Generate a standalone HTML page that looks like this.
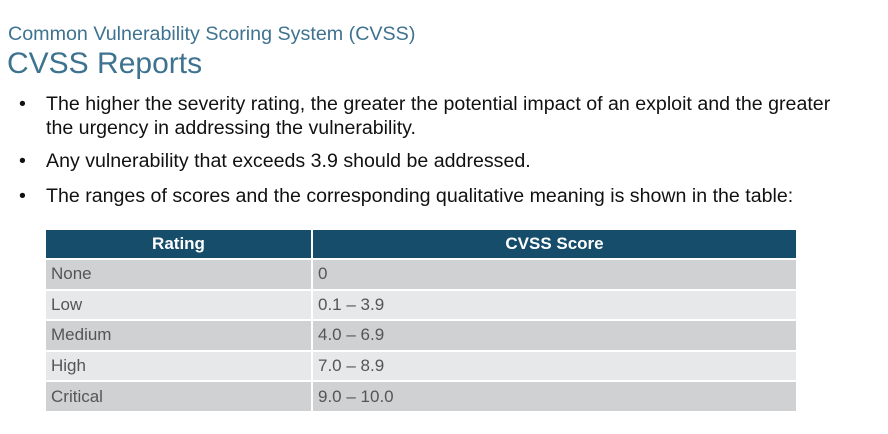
<!DOCTYPE html>
<html><head><meta charset="utf-8"><style>
body{margin:0;width:888px;height:434px;background:#fff;font-family:"Liberation Sans",Arial,sans-serif;position:relative;overflow:hidden}
.a{position:absolute;white-space:nowrap}
.sub{left:8px;top:23px;font-size:19.7px;color:#3e7390}
.ttl{left:7px;top:47px;font-size:30px;color:#3e7390}
.b{font-size:19.6px;color:#111;left:46px;line-height:24px}
.dot{position:absolute;left:-27px}
table{position:absolute;left:46px;top:230px;width:752px;border-collapse:collapse;font-size:17px}
th{background:#154d6b;color:#fff;font-weight:bold;height:28px;border-right:2px solid #fff;padding:0}
td{height:28.6px;padding:0 0 0 5px;color:#555;border-top:2px solid #fff;border-right:2px solid #fff}
tr.o td{background:#cfd1d3}tr.e td{background:#e7e8e9}
</style></head><body>
<div class="a sub">Common Vulnerability Scoring System (CVSS)</div>
<div class="a ttl">CVSS Reports</div>
<div class="a b" style="top:92px"><span class="dot">•</span>The higher the severity rating, the greater the potential impact of an exploit and the greater<br>the urgency in addressing the vulnerability.</div>
<div class="a b" style="top:149px"><span class="dot">•</span>Any vulnerability that exceeds 3.9 should be addressed.</div>
<div class="a b" style="top:184px"><span class="dot">•</span>The ranges of scores and the corresponding qualitative meaning is shown in the table:</div>
<table>
<tr><th style="width:265px">Rating</th><th>CVSS Score</th></tr>
<tr class="o"><td>None</td><td>0</td></tr>
<tr class="e"><td>Low</td><td>0.1 – 3.9</td></tr>
<tr class="o"><td>Medium</td><td>4.0 – 6.9</td></tr>
<tr class="e"><td>High</td><td>7.0 – 8.9</td></tr>
<tr class="o"><td>Critical</td><td>9.0 – 10.0</td></tr>
</table>
</body></html>
